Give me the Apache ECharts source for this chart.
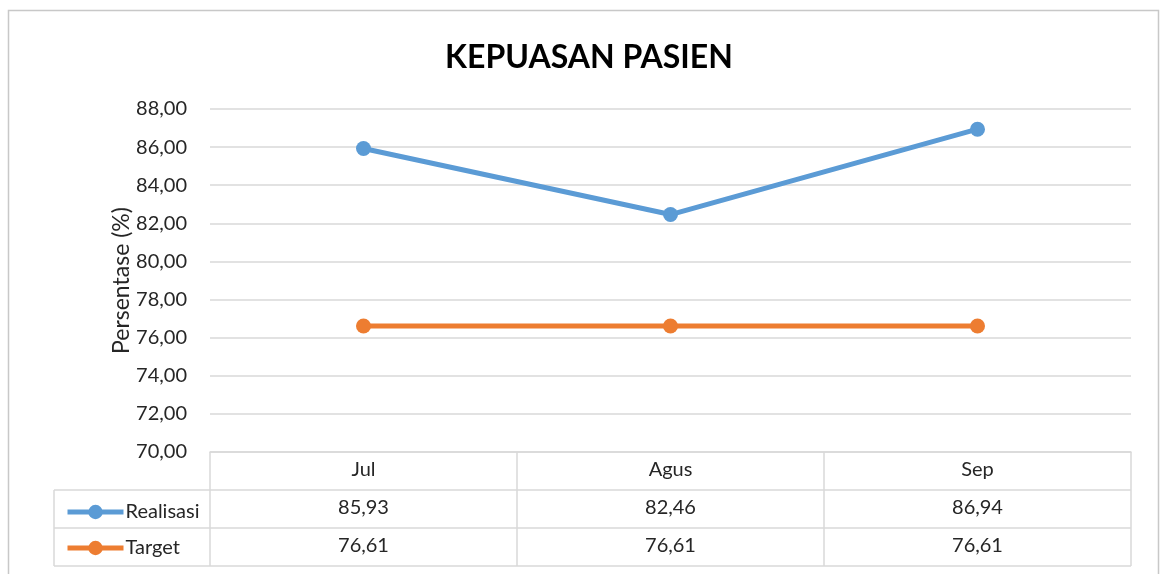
<!DOCTYPE html>
<html>
<head>
<meta charset="utf-8">
<script src="https://cdn.jsdelivr.net/npm/echarts@6/dist/echarts.min.js"></script>
<style>
  html, body { margin: 0; padding: 0; background: #fff; }
  #main { width: 1160px; height: 574px; }
</style>
</head>
<body>
<div id="main"></div>
<script>
// data
var months = ["Jul", "Agus", "Sep"];
var realisasi = [85.93, 82.46, 86.94];
var target = [76.61, 76.61, 76.61];
var yTicks = [70, 88, 2]; // min, max, step

function fmt(v) {
  return v.toFixed(2).replace(".", ",");
}

var font = "Lato, 'Open Sans', sans-serif";
var txt = "#262626";
var border = "#d9d9d9";

// table geometry (px)
var gLeft = 210, gRight = 1131, gTop = 109, gBottom = 452;
var rowH = 38, tabLeft = 54;

var myChart = echarts.init(document.getElementById("main"));

var option = {
  animation: false,
  title: {
    text: "KEPUASAN PASIEN",
    left: 584,
    textAlign: "center",
    top: 37,
    textStyle: { fontFamily: font, fontSize: 32, fontWeight: "bold", color: "#000" }
  },
  grid: { left: gLeft, right: 1160 - gRight, top: gTop, bottom: 574 - gBottom },
  legend: {
    orient: "vertical",
    left: 60,
    top: 497,
    itemWidth: 56,
    itemHeight: 18,
    itemGap: 16,
    data: ["Realisasi", "Target"],
    lineStyle: { width: 5 },
    textStyle: { fontFamily: font, fontSize: 20, color: txt, padding: [0, 0, 0, -3] }
  },
  xAxis: [
    {
      type: "category",
      data: months,
      position: "bottom",
      axisLine: { lineStyle: { color: border, width: 1.5 } },
      axisTick: { show: true, length: rowH * 3, lineStyle: { color: border, width: 1.5 } },
      axisLabel: { fontFamily: font, fontSize: 20, color: txt, margin: 8 }
    },
    {
      type: "category",
      data: realisasi.map(fmt),
      position: "bottom",
      offset: rowH,
      axisLine: { show: false },
      axisTick: { show: false },
      axisLabel: { fontFamily: font, fontSize: 20, color: txt, margin: 8 }
    },
    {
      type: "category",
      data: target.map(fmt),
      position: "bottom",
      offset: rowH * 2,
      axisLine: { show: false },
      axisTick: { show: false },
      axisLabel: { fontFamily: font, fontSize: 20, color: txt, margin: 8 }
    }
  ],
  yAxis: {
    type: "value",
    min: yTicks[0],
    max: yTicks[1],
    interval: yTicks[2],
    name: "Persentase (%)",
    nameLocation: "middle",
    nameRotate: 90,
    nameGap: 77,
    nameMoveOverlap: false,
    nameTextStyle: { fontFamily: font, fontSize: 23, color: txt },
    axisLine: { show: false },
    axisTick: { show: false },
    splitLine: { lineStyle: { color: border, width: 1.5 } },
    axisLabel: {
      fontFamily: font,
      fontSize: 20,
      color: txt,
      margin: 23,
      formatter: function(v) { return fmt(v); }
    }
  },
  series: [
    {
      name: "Realisasi",
      type: "line",
      data: realisasi,
      symbol: "circle",
      symbolSize: 15,
      lineStyle: { width: 5, color: "#5b9bd5" },
      itemStyle: { color: "#5b9bd5" }
    },
    {
      name: "Target",
      type: "line",
      data: target,
      symbol: "circle",
      symbolSize: 15,
      lineStyle: { width: 5, color: "#ed7d31" },
      itemStyle: { color: "#ed7d31" }
    }
  ],
  graphic: [
    {
      type: "rect",
      shape: { x: 8.5, y: 10.5, width: 1150, height: 580 },
      style: { fill: "none", stroke: "#c8c8c8", lineWidth: 1.5 },
      silent: true
    },
    {
      type: "group",
      silent: true,
      children: [
        { type: "line", shape: { x1: tabLeft, y1: gBottom + rowH, x2: gRight, y2: gBottom + rowH }, style: { stroke: border, lineWidth: 1.5 } },
        { type: "line", shape: { x1: tabLeft, y1: gBottom + rowH * 2, x2: gRight, y2: gBottom + rowH * 2 }, style: { stroke: border, lineWidth: 1.5 } },
        { type: "line", shape: { x1: tabLeft, y1: gBottom + rowH * 3, x2: gRight, y2: gBottom + rowH * 3 }, style: { stroke: border, lineWidth: 1.5 } },
        { type: "line", shape: { x1: tabLeft, y1: gBottom + rowH, x2: tabLeft, y2: gBottom + rowH * 3 }, style: { stroke: border, lineWidth: 1.5 } }
      ]
    }
  ]
};

myChart.setOption(option);
</script>
</body>
</html>
